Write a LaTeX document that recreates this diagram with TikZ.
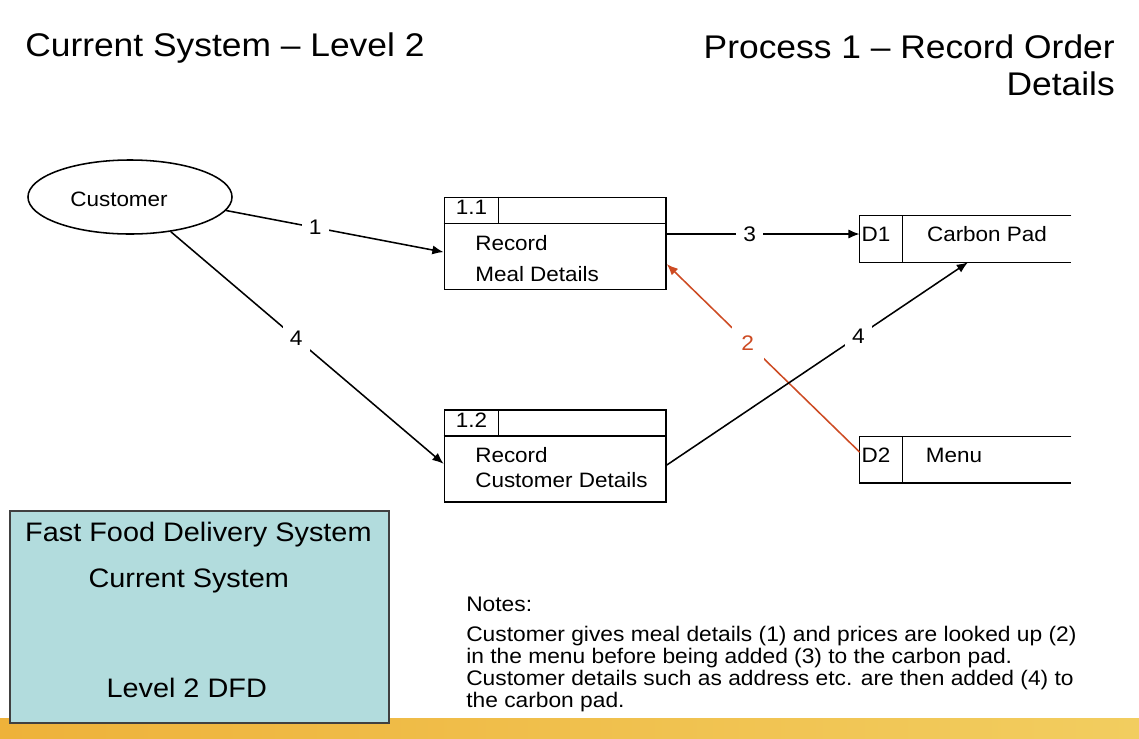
\documentclass[tikz,border=0pt]{standalone}
\usepackage{fontspec}
\setmainfont{Liberation Sans}[FakeStretch=1.08]
\usepackage{tikz}
\usetikzlibrary{arrows.meta, positioning, shapes.geometric}

\definecolor{flowred}{RGB}{205,75,35}
\definecolor{panelfill}{RGB}{178,220,221}
\definecolor{bandA}{RGB}{238,178,58}
\definecolor{bandB}{RGB}{246,230,135}
\definecolor{bandC}{RGB}{242,205,95}

\tikzstyle{title}=[inner sep=0pt, font=\fontsize{23.3}{26.1}\selectfont]
\tikzstyle{ent}=[draw, ellipse, line width=1.1pt, minimum width=5.1cm, minimum height=1.85cm]
\tikzstyle{proc}=[draw, line width=1.1pt, minimum width=5.54cm, minimum height=2.3cm, inner sep=0pt]
\tikzstyle{store}=[minimum width=5.275cm, minimum height=1.15cm, inner sep=0pt]
\tikzstyle{edge}=[line width=1.1pt]
\tikzstyle{txt}=[inner sep=0pt, font=\fontsize{14.8}{17.8}\selectfont]
\tikzstyle{num}=[fill=white, inner sep=5pt, font=\fontsize{15}{18}\selectfont]
\tikzstyle{arr}=[line width=1.1pt, -{Latex[length=8pt,width=6.5pt]}]
\tikzstyle{panel}=[draw=black!75, line width=1.1pt, fill=panelfill, minimum width=9.475cm, minimum height=5.3cm]
\tikzstyle{paneltxt}=[inner sep=0pt, font=\fontsize{19}{22}\selectfont]
\tikzstyle{note}=[inner sep=0pt, font=\fontsize{15}{15.6}\selectfont]

\begin{document}
\begin{tikzpicture}[x=0.025cm, y=-0.025cm]
    \useasboundingbox (0,0) rectangle (1139,738);

    % bottom band
    \shade[left color=bandA, middle color=bandB, right color=bandC] (0,718) rectangle (1139,746);

    % titles
    \node [title, anchor=base west] (ttl) at (25,56.7) {Current System – Level 2};
    \node [title, anchor=north east, align=right] (ttlproc) at (1115,34.4) {Process 1 – Record Order\\Details};

    % external entity
    \node [ent] (cust) at (130,197) {};
    \node [txt] (custtxt) at (119,199) {Customer};

    % processes
    \node [proc] (p11) at (555.2,243.3) {};
    \draw [edge] ([yshift=-0.675cm]p11.north west) -- ++(221.7,0);
    \draw [edge] ([xshift=1.375cm]p11.north west) -- ++(0,27);
    \node [txt] (p11id) at (471.5,207.7) {1.1};
    \node [txt, anchor=north west, align=left] (p11txt) at (475,235) {Record\\[4.2pt]Meal Details};

    \node [proc] (p12) at (555.2,455.8) {};
    \draw [edge] ([yshift=-0.675cm]p12.north west) -- ++(221.7,0);
    \draw [edge] ([xshift=1.375cm]p12.north west) -- ++(0,27);
    \node [txt] (p12id) at (471.5,420) {1.2};
    \node [txt, anchor=north west, align=left] (p12txt) at (475,446.7) {Record\\Customer Details};

    % data stores
    \node [store] (d1) at (965.5,239) {};
    \draw [edge] (d1.north east) -- (d1.north west) -- (d1.south west) -- (d1.south east);
    \draw [edge] ([xshift=1.075cm]d1.north west) -- ++(0,46);
    \node [txt] (d1id) at (876,234.5) {D1};
    \node [txt] (d1txt) at (987,234.5) {Carbon Pad};

    \node [store] (d2) at (965.5,459.7) {};
    \draw [edge] (d2.north east) -- (d2.north west) -- (d2.south west) -- (d2.south east);
    \draw [edge] ([xshift=1.075cm]d2.north west) -- ++(0,46);
    \node [txt] (d2id) at (876,455.5) {D2};
    \node [txt] (d2txt) at (954,455.5) {Menu};

    % flows
    \draw [arr] (cust.-8) -- node[num, pos=0.41] {1} ([yshift=-0.22cm]p11.west);
    \draw [arr] (cust) -- node[num, pos=0.46] {4} ([yshift=-0.2cm]p12.west);
    \draw [arr] ([yshift=0.2325cm]p11.east) -- node[num, pos=0.43] {3} ([yshift=0.125cm]d1.west);
    \draw [arr, flowred] ([yshift=0.19cm]d2.west) -- node[num, inner sep=7pt, text=flowred, pos=0.58] {2} ([yshift=-0.52cm]p11.east);
    \draw [arr] ([yshift=-0.23cm]p12.east) -- node[num, pos=0.636] {4} ([xshift=0.0625cm]d1.south);

    % title panel
    \node [panel] (sysbox) at (199.5,617) {};
    \node [paneltxt, anchor=base] (sysname) at (198.4,541.7) {Fast Food Delivery System};
    \node [paneltxt, anchor=base] (syscur) at (188.8,587.3) {Current System};
    \node [paneltxt, anchor=base] (syslvl) at (186.7,697.7) {Level 2 DFD};

    % notes
    \node [note, anchor=base west] (notehd) at (466,611) {Notes:};
    \node [note, anchor=north west, align=left] (notes) at (466,626) {Customer gives meal details (1) and prices are looked up (2)\\in the menu before being added (3) to the carbon pad.\\Customer details such as address etc. are then added (4) to\\the carbon pad.};
\end{tikzpicture}
\end{document}
